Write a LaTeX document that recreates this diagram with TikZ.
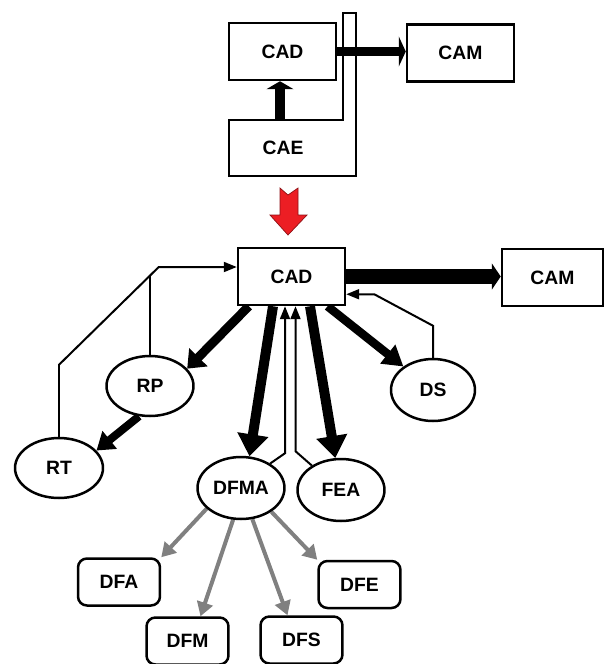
\documentclass[tikz,border=0pt]{standalone}
\usepackage{fontspec}
\setmainfont{Liberation Sans}
\usetikzlibrary{arrows.meta,shapes.geometric,calc,backgrounds}
\definecolor{arrowred}{RGB}{236,30,36}
\definecolor{linegray}{RGB}{128,128,128}

\begin{document}
\begin{tikzpicture}[x=0.02cm,y=-0.02cm,
    font=\fontsize{11}{13}\selectfont\bfseries,
    box/.style={draw,fill=white,line width=0.05cm,inner sep=0pt,minimum width=2.14cm,minimum height=1.14cm},
    oval/.style={draw,fill=white,ellipse,line width=0.05cm,inner sep=0pt,minimum width=1.74cm,minimum height=1.2cm},
    rbox/.style={draw,fill=white,rounded corners=0.18cm,line width=0.05cm,inner sep=0pt,minimum width=1.64cm,minimum height=0.94cm},
    fatarrow/.style n args={3}{line width=#1,-{Triangle[length=#2,width=#3]}},
    feed/.style={line width=0.04cm,-{Triangle[length=0.26cm,width=0.2cm]}},
    grayarrow/.style={linegray,line width=0.08cm,-{Triangle[length=0.28cm,width=0.32cm]}}]
    \useasboundingbox (0,0) rectangle (605,664);

    % top: CAE -> CAD -> CAM
    \node[box] (cad1) at (282.5,51.5) {CAD};
    \node[box] (cam1) at (460.5,53) {CAM};
    \def\caepath{(229,120) -- (343,120) -- (343,13) -- (356,13) -- (356,176) -- (229,176) -- cycle}
    \draw[line width=0.05cm] \caepath;
    \node (cae) at (283,148) {CAE};
    \coordinate (caetop) at (280,120);
    \draw[fatarrow={0.2cm}{0.16cm}{0.54cm}] (caetop) -- (caetop |- cad1.south);
    \draw[fatarrow={0.17cm}{0.14cm}{0.6cm}] (cad1.east) -- (cad1.east -| cam1.west);

    % red arrow
    \fill[arrowred,draw=arrowred!60!black,line width=0.4pt] (280,188) -- (288,195) -- (298,188) -- (298,215)
        -- (307,215) -- (288,235) -- (270,215) -- (280,215) -- cycle;

    % bottom
    \node[box] (cad2) at (291.5,276.5) {CAD};
    \node[box,minimum width=2.02cm] (cam2) at (552.5,277.5) {CAM};
    \node[oval] (rp) at (150,386) {RP};
    \node[oval,minimum width=1.76cm] (rt) at (59,468) {RT};
    \node[oval,minimum width=1.68cm,minimum height=1.24cm] (ds) at (433,390) {DS};
    \node[oval,minimum height=1.24cm] (dfma) at (241,488) {DFMA};
    \node[oval,minimum height=1.24cm] (fea) at (341,490) {FEA};
    \node[rbox] (dfa) at (119,582) {DFA};
    \node[rbox] (dfe) at (359.5,584.5) {DFE};
    \node[rbox] (dfm) at (187.5,641) {DFM};
    \node[rbox] (dfs) at (301.5,640) {DFS};

    \begin{scope}[on background layer]
        \draw[fatarrow={0.3cm}{0.18cm}{0.52cm}] (cad2.east) -- (cad2.east -| cam2.west);
        \draw[fatarrow={0.18cm}{0.32cm}{0.5cm}] ($(cad2.south west)+(12,0)$) -- (rp.25);
        \draw[fatarrow={0.16cm}{0.34cm}{0.44cm}] (rp.250) -- (rt.25);
        \draw[fatarrow={0.2cm}{0.44cm}{0.6cm}] ($(cad2.south)+(-18.5,0)$) -- (dfma.75);
        \draw[fatarrow={0.2cm}{0.44cm}{0.6cm}] ($(cad2.south)+(18.5,0)$) -- (fea.100);
        \draw[fatarrow={0.17cm}{0.4cm}{0.46cm}] ($(cad2.south)+(36,0)$) -- (ds);
        % DFMA split
        \draw[grayarrow] (dfma.211) -- (dfa.north east);
        \draw[grayarrow] (dfma.256) -- ($(dfm.north)+(13,0)$);
        \draw[grayarrow] (dfma.290) -- ($(dfs.north)+(-14,0)$);
        \draw[grayarrow] (dfma.322) -- (dfe.north west);
    \end{scope}

    % feedback lines
    \draw[feed] (ds.north) -- ++(0,-32) -- ($(cad2.south east)+(28,-12)$) -- ($(cad2.south east)+(0,-12)$);
    \draw[feed] (rt.north) -- ++(0,-72) -- ($(cad2.west)+(-78,-9.5)$) -- ($(cad2.west)+(0,-9.5)$);
    \draw[line width=0.04cm] (rp.north) -- ++(0,-80);
    \draw[feed] (dfma.40) -- ($(cad2.south)+(-6.5,147)$) -- ($(cad2.south)+(-6.5,0)$);
    \draw[feed] (fea.140) -- ($(cad2.south)+(4,145)$) -- ($(cad2.south)+(4,0)$);
\end{tikzpicture}
\end{document}
